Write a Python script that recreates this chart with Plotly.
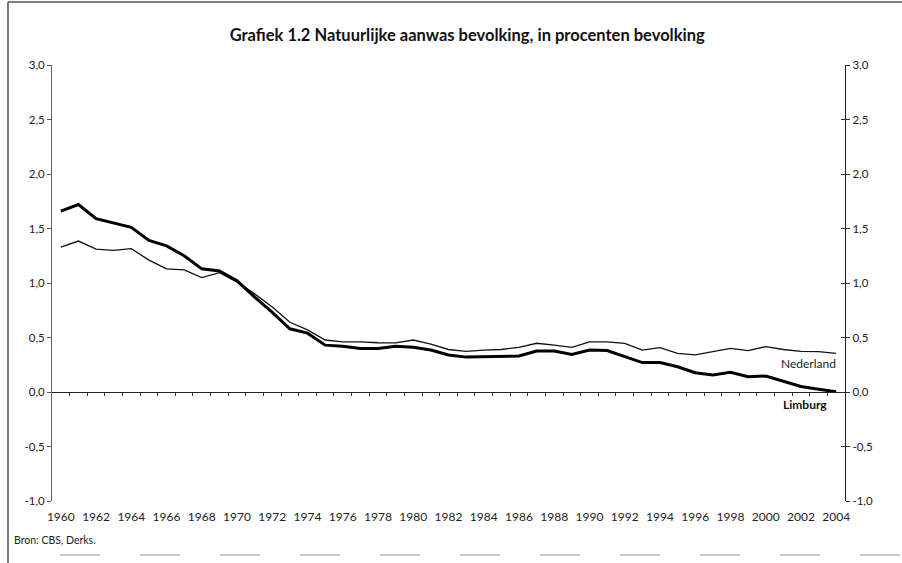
import plotly.graph_objects as go

years = list(range(1960, 2005))
limburg = [1.66, 1.72, 1.59, 1.55, 1.51, 1.39, 1.34, 1.25, 1.13, 1.11,
           1.02, 0.87, 0.73, 0.58, 0.54, 0.43, 0.42, 0.40, 0.40, 0.42,
           0.41, 0.385, 0.34, 0.32, 0.325, 0.325, 0.33, 0.376, 0.376, 0.345,
           0.385, 0.38, 0.325, 0.27, 0.27, 0.232, 0.177, 0.156, 0.18, 0.14,
           0.147, 0.095, 0.05, 0.025, 0.003]
nederland = [1.33, 1.385, 1.31, 1.30, 1.315, 1.21, 1.13, 1.12, 1.05, 1.095,
             1.01, 0.90, 0.78, 0.64, 0.57, 0.477, 0.46, 0.46, 0.452, 0.45,
             0.477, 0.44, 0.39, 0.373, 0.385, 0.39, 0.41, 0.447, 0.43, 0.41,
             0.46, 0.46, 0.447, 0.385, 0.407, 0.355, 0.34, 0.37, 0.40, 0.38,
             0.416, 0.39, 0.373, 0.37, 0.355]
year_labels = [str(y) for y in range(1960, 2005, 2)]
y_vals = [3.0, 2.5, 2.0, 1.5, 1.0, 0.5, 0.0, -0.5, -1.0]
y_text = ["3,0", "2,5", "2,0", "1,5", "1,0", "0,5", "0,0", "-0,5", "-1,0"]
title = "Grafiek 1.2 Natuurlijke aanwas bevolking, in procenten bevolking"
source = "Bron: CBS, Derks."

FONT = "Lato, Calibri, sans-serif"
W, H = 902, 563
L, R, T, B = 52, 57, 65, 62
PW, PH = W - L - R, H - T - B
xr = [years[0] - 0.5, years[-1] + 0.5]
boundaries = [y + 0.5 for y in years[:-1]]


def px(xpix):
    return (xpix - L) / PW


def py(ypix):
    return (H - B - ypix) / PH


fig = go.Figure()
fig.add_trace(go.Scatter(x=years, y=nederland, mode="lines", name="Nederland",
                         line=dict(color="#111", width=1.3), hoverinfo="skip"))
fig.add_trace(go.Scatter(x=years, y=limburg, mode="lines", name="Limburg",
                         line=dict(color="#000", width=3), hoverinfo="skip"))
# invisible helper traces so the helper axes are drawn
fig.add_trace(go.Scatter(x=[years[0]], y=[0], xaxis="x2", yaxis="y", mode="markers",
                         marker=dict(opacity=0), hoverinfo="skip"))
fig.add_trace(go.Scatter(x=[years[0]], y=[0], xaxis="x", yaxis="y2", mode="markers",
                         marker=dict(opacity=0), hoverinfo="skip"))
fig.add_trace(go.Scatter(x=[years[0]], y=[0], xaxis="x", yaxis="y3", mode="markers",
                         marker=dict(opacity=0), hoverinfo="skip"))

fig.update_layout(
    width=W, height=H,
    margin=dict(l=L, r=R, t=T, b=B),
    paper_bgcolor="white", plot_bgcolor="white",
    showlegend=False,
    font=dict(family=FONT, size=11.5, color="#222"),
    title=dict(text="<b>" + title + "</b>", x=0.518, xanchor="center", y=1 - 35 / H,
               yanchor="middle", font=dict(family=FONT, size=16.5, color="#111")),
    xaxis=dict(range=xr, tickvals=[int(t) for t in year_labels], ticktext=year_labels,
               showline=False, showgrid=False, zeroline=False, ticks="outside",
               ticklen=5, tickcolor="rgba(0,0,0,0)", tickfont=dict(size=12, color="#222")),
    xaxis2=dict(range=xr, overlaying="x", anchor="free", position=0.25,
                showline=True, linecolor="#222", linewidth=1, showgrid=False,
                zeroline=False, tickvals=boundaries, ticks="outside", ticklen=3,
                tickcolor="#333", showticklabels=False),
    yaxis=dict(range=[-1, 3], tickvals=y_vals, ticktext=y_text, showline=True,
               linecolor="#666", linewidth=1, showgrid=False, zeroline=False,
               ticks="outside", ticklen=4, tickcolor="#555",
               tickfont=dict(size=11.5, color="#222")),
    yaxis2=dict(range=[-1, 3], overlaying="y", side="right", tickvals=y_vals,
                ticktext=y_text, showline=True, linecolor="#222", linewidth=1.2,
                showgrid=False, zeroline=False, ticks="outside", ticklen=4,
                tickcolor="#333", tickfont=dict(size=11.5, color="#222")),
    yaxis3=dict(range=[-1, 3], overlaying="y", side="right", tickvals=y_vals,
                showline=False, showgrid=False, zeroline=False, ticks="inside",
                ticklen=4, tickcolor="#333", showticklabels=False),
)

fig.add_annotation(x=1, xref="paper", xshift=-7, y=nederland[-1], yref="y", yshift=-10,
                   text="Nederland", showarrow=False, xanchor="right", yanchor="middle",
                   font=dict(family=FONT, size=12, color="#222"))
fig.add_annotation(x=1, xref="paper", xshift=-16, y=limburg[-1], yref="y", yshift=-13,
                   text="<b>Limburg</b>", showarrow=False, xanchor="right", yanchor="middle",
                   font=dict(family=FONT, size=12, color="#111"))
fig.add_annotation(x=px(12), xref="paper", y=py(540), yref="paper", text=source,
                   showarrow=False, xanchor="left", yanchor="middle",
                   font=dict(family=FONT, size=10.5, color="#222"))

# frame lines of the scanned page
fig.add_shape(type="line", xref="paper", yref="paper", x0=px(8), x1=px(8),
              y0=py(563), y1=py(2), line=dict(color="#333", width=1.3))
fig.add_shape(type="line", xref="paper", yref="paper", x0=px(8), x1=px(902),
              y0=py(2), y1=py(2), line=dict(color="#555", width=1.3))
fig.add_shape(type="line", xref="paper", yref="paper", x0=px(60), x1=px(902),
              y0=py(555), y1=py(555),
              line=dict(color="#ccc", width=2, dash="40px,40px"))

fig.write_html("out.html", config={"displayModeBar": False},
               post_script="document.body.style.margin='0';document.body.style.overflow='hidden';")
